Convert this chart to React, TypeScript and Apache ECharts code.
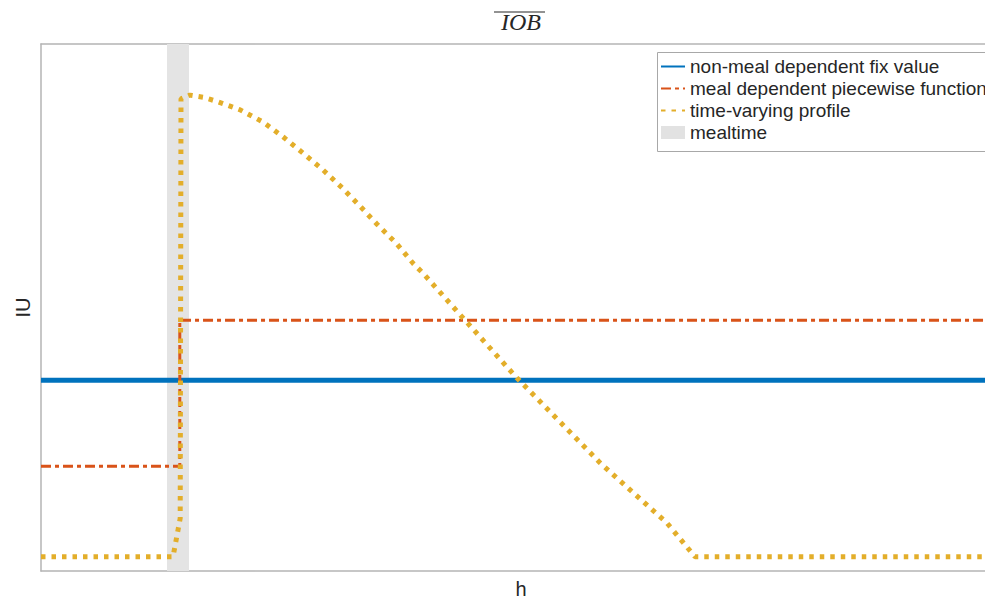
import React, { useEffect, useRef } from "react";
import * as echarts from "echarts";

// hours on the x axis, IU (relative scale 0..100) on the y axis
const xRange = [0, 24];
const yRange = [0, 100];

const mealWindow = [3.15, 3.7];

const fixValue = [
  [0, 36.2],
  [24, 36.2],
];

const piecewise = [
  [0, 19.9],
  [3.47, 19.9],
  [3.47, 47.6],
  [24, 47.6],
];

const profile = [
  [0, 2.7],
  [3.3, 2.7],
  [3.48, 10],
  [3.5, 89.6],
  [3.72, 90.3],
  [4.05, 89.9],
  [4.4, 89.1],
  [4.98, 87.5],
  [5.55, 85.2],
  [6.05, 82.4],
  [6.55, 79.3],
  [7.05, 76.1],
  [7.53, 72.7],
  [7.98, 69.2],
  [8.4, 65.8],
  [8.88, 62.2],
  [9.3, 58.4],
  [9.55, 56.5],
  [10.6, 47.6],
  [11.9, 36.6],
  [13.98, 20.5],
  [15.65, 9.1],
  [16.35, 2.7],
  [24, 2.7],
];

const seriesNames = [
  "non-meal dependent fix value",
  "meal dependent piecewise function",
  "time-varying profile",
  "mealtime",
];

const axisColor = "#b4b4b4";
const sansFont = "'Liberation Sans', Arial, sans-serif";

export default function App() {
  const ref = useRef<HTMLDivElement>(null);

  useEffect(() => {
    if (!ref.current) return;
    const chart = echarts.init(ref.current, null, { renderer: "svg" });
    const hiddenSymbol = { opacity: 0 };
    chart.setOption({
      animation: false,
      backgroundColor: "#ffffff",
      grid: {
        left: 41,
        top: 44,
        width: 960,
        height: 527,
        containLabel: false,
        outerBoundsMode: "none",
      },
      xAxis: [
        {
          type: "value",
          min: xRange[0],
          max: xRange[1],
          name: "h",
          nameLocation: "middle",
          nameGap: 8,
          nameTextStyle: { fontFamily: sansFont, fontSize: 20, color: "#262626" },
          axisLine: { show: true, lineStyle: { color: axisColor, width: 1.5 } },
          axisTick: { show: false },
          axisLabel: { show: false },
          splitLine: { show: false },
        },
        {
          type: "value",
          position: "top",
          min: xRange[0],
          max: xRange[1],
          axisLine: { show: true, lineStyle: { color: axisColor, width: 1.5 } },
          axisTick: { show: false },
          axisLabel: { show: false },
          splitLine: { show: false },
        },
      ],
      yAxis: {
        type: "value",
        min: yRange[0],
        max: yRange[1],
        name: "IU",
        nameLocation: "middle",
        nameGap: 8,
        nameTextStyle: { fontFamily: sansFont, fontSize: 20, color: "#262626" },
        axisLine: { show: true, lineStyle: { color: axisColor, width: 1.5 } },
        axisTick: { show: false },
        axisLabel: { show: false },
        splitLine: { show: false },
      },
      legend: {
        orient: "vertical",
        left: 657,
        top: 52,
        padding: [5, 60, 9, 3],
        itemGap: 3,
        itemWidth: 24,
        itemHeight: 13,
        textStyle: { fontFamily: sansFont, fontSize: 19, color: "#262626" },
        data: [
          { name: seriesNames[0], itemStyle: hiddenSymbol },
          { name: seriesNames[1], itemStyle: hiddenSymbol },
          { name: seriesNames[2], itemStyle: hiddenSymbol },
          { name: seriesNames[3], icon: "rect" },
        ],
      },
      graphic: [
        {
          // legend frame, running past the right edge of the page
          type: "rect",
          z: 2,
          silent: true,
          shape: { x: 657.5, y: 52.5, width: 420, height: 99 },
          style: { fill: "#ffffff", stroke: "#a8a8a8", lineWidth: 1 },
        },
        {
          type: "text",
          x: 521,
          y: 22,
          style: {
            text: "IOB",
            fontFamily: "'Liberation Serif', 'Times New Roman', serif",
            fontStyle: "italic",
            fontSize: 24,
            fill: "#262626",
            align: "center",
            verticalAlign: "middle",
          },
        },
        {
          type: "line",
          shape: { x1: 494, y1: 12, x2: 545, y2: 12 },
          style: { stroke: "#262626", lineWidth: 1.2 },
        },
      ],
      series: [
        {
          name: seriesNames[3],
          type: "line",
          data: [],
          color: "#e2e2e2",
          z: 1,
          silent: true,
          markArea: {
            silent: true,
            itemStyle: { color: "#e4e4e4" },
            data: [[{ xAxis: mealWindow[0] }, { xAxis: mealWindow[1] }]],
          },
        },
        {
          name: seriesNames[0],
          type: "line",
          data: fixValue,
          symbol: "none",
          color: "#0072BD",
          z: 3,
          lineStyle: { width: 5, color: "#0072BD" },
        },
        {
          name: seriesNames[1],
          type: "line",
          data: piecewise,
          symbol: "none",
          color: "#D95319",
          z: 4,
          lineStyle: { width: 3, color: "#D95319", type: [10, 4, 4, 4], cap: "butt" },
        },
        {
          name: seriesNames[2],
          type: "line",
          data: profile,
          symbol: "none",
          color: "#E3AE2A",
          z: 5,
          lineStyle: { width: 5, color: "#E3AE2A", type: [4.5, 6], cap: "butt" },
        },
      ],
    });
    return () => chart.dispose();
  }, []);

  return (
    <div
      ref={ref}
      style={{ position: "fixed", left: 0, top: 0, width: 985, height: 600 }}
    />
  );
}
